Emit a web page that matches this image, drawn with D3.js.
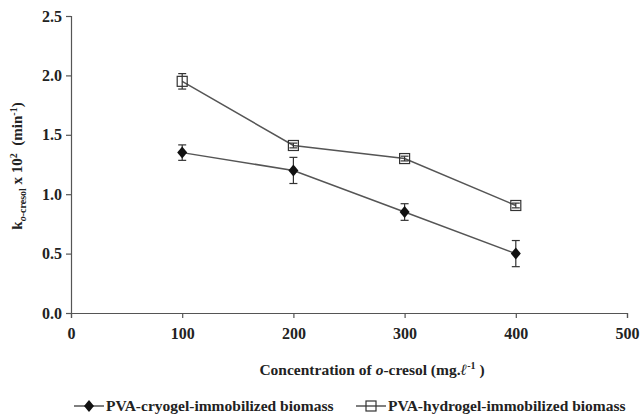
<!DOCTYPE html>
<html>
<head>
<meta charset="utf-8">
<script src="https://cdn.jsdelivr.net/npm/d3@7"></script>
<style>
  body { margin: 0; background: #fff; }
  text { font-family: "Liberation Serif", "Times New Roman", serif; font-weight: bold; fill: #222; }
</style>
</head>
<body>
<svg width="640" height="416"></svg>
<script>
// concentrations (mg/l)
const conc = [100, 200, 300, 400];
// rate constants x 10^2 (min^-1)
const cryogel = [1.35, 1.20, 0.85, 0.50];
const cryogelErr = [0.065, 0.11, 0.07, 0.11];
const hydrogel = [1.95, 1.41, 1.30, 0.905];
const hydrogelErr = [0.065, 0.02, 0.02, 0.02];
const xTicks = [0, 100, 200, 300, 400, 500];
const yTicks = [0, 0.5, 1.0, 1.5, 2.0, 2.5];

const svg = d3.select("svg");
const axisColor = "#555";

const x = d3.scaleLinear().domain([0, 500]).range([71, 627]);
const y = d3.scaleLinear().domain([0, 2.5]).range([313, 16]);

// axes
const xAxis = svg.append("g")
    .attr("transform", `translate(0,${y(0)})`)
    .call(d3.axisBottom(x).tickValues(xTicks).tickFormat(d3.format("d")).tickSize(5).tickPadding(10));
const yAxis = svg.append("g")
    .attr("transform", `translate(${x(0)},0)`)
    .call(d3.axisLeft(y).tickValues(yTicks).tickFormat(d3.format(".1f")).tickSize(5).tickPadding(4));

[xAxis, yAxis].forEach(g => {
    g.select(".domain").attr("stroke", axisColor).attr("stroke-width", 1.2);
    g.selectAll(".tick line").attr("stroke", axisColor).attr("stroke-width", 1.2);
    g.selectAll(".tick text")
        .style("font-family", '"Liberation Serif", serif')
        .style("font-weight", "bold")
        .style("font-size", "16px")
        .attr("fill", "#222");
});

// y axis title
const yTitle = svg.append("text")
    .attr("transform", "translate(22,166) rotate(-90)")
    .attr("text-anchor", "middle")
    .style("font-size", "15px");
yTitle.append("tspan").text("k");
yTitle.append("tspan").attr("dy", 4).style("font-size", "10px").style("font-style", "italic").text("o");
yTitle.append("tspan").style("font-size", "10px").text("-cresol");
yTitle.append("tspan").attr("dy", -4).text("\u00a0x 10");
yTitle.append("tspan").attr("dy", -5).style("font-size", "10px").text("2");
yTitle.append("tspan").attr("dy", 5).text("\u00a0\u00a0(min");
yTitle.append("tspan").attr("dy", -5).style("font-size", "10px").text("-1");
yTitle.append("tspan").attr("dy", 5).text(")");

// x axis title
const xTitle = svg.append("text")
    .attr("x", 372).attr("y", 375)
    .attr("text-anchor", "middle")
    .style("font-size", "15.5px");
xTitle.append("tspan").text("Concentration of ");
xTitle.append("tspan").style("font-style", "italic").text("o");
xTitle.append("tspan").text("-cresol (mg.");
xTitle.append("tspan").style("font-style", "italic").text("ℓ");
xTitle.append("tspan").attr("dy", -6).style("font-size", "10px").text("-1");
xTitle.append("tspan").attr("dy", 6).text("\u00a0)");

const lineGen = d3.line().x(d => x(d[0])).y(d => y(d[1]));
const lineColor = "#555";

function drawSeries(vals, errs, marker) {
    const pts = conc.map((c, i) => [c, vals[i], errs[i]]);
    svg.append("path")
        .datum(pts)
        .attr("d", lineGen)
        .attr("fill", "none")
        .attr("stroke", lineColor)
        .attr("stroke-width", 1.5);

    const eb = svg.append("g").attr("stroke", "#333").attr("stroke-width", 1.2);
    pts.forEach(p => {
        const cx = x(p[0]);
        eb.append("line").attr("x1", cx).attr("x2", cx).attr("y1", y(p[1] - p[2])).attr("y2", y(p[1] + p[2]));
        [p[1] - p[2], p[1] + p[2]].forEach(v => {
            eb.append("line").attr("x1", cx - 4).attr("x2", cx + 4).attr("y1", y(v)).attr("y2", y(v));
        });
    });

    pts.forEach(p => marker(svg, x(p[0]), y(p[1])));
}

function diamond(g, cx, cy) {
    g.append("path")
        .attr("d", `M${cx},${cy - 6}L${cx + 5},${cy}L${cx},${cy + 6}L${cx - 5},${cy}Z`)
        .attr("fill", "#111");
}
function square(g, cx, cy) {
    g.append("rect")
        .attr("x", cx - 5).attr("y", cy - 5).attr("width", 10).attr("height", 10)
        .attr("fill", "none").attr("stroke", "#333").attr("stroke-width", 1.2);
}

drawSeries(cryogel, cryogelErr, diamond);
drawSeries(hydrogel, hydrogelErr, square);

// legend
const legend = [
    { name: "PVA-cryogel-immobilized biomass", x: 74, marker: diamond },
    { name: "PVA-hydrogel-immobilized biomass", x: 356, marker: square }
];
legend.forEach(l => {
    const ly = 406;
    svg.append("line").attr("x1", l.x).attr("x2", l.x + 30).attr("y1", ly).attr("y2", ly)
        .attr("stroke", lineColor).attr("stroke-width", 1.5);
    l.marker(svg, l.x + 15, ly);
    svg.append("text").attr("x", l.x + 32).attr("y", ly + 5)
        .style("font-size", "15.5px").text(l.name);
});
</script>
</body>
</html>
